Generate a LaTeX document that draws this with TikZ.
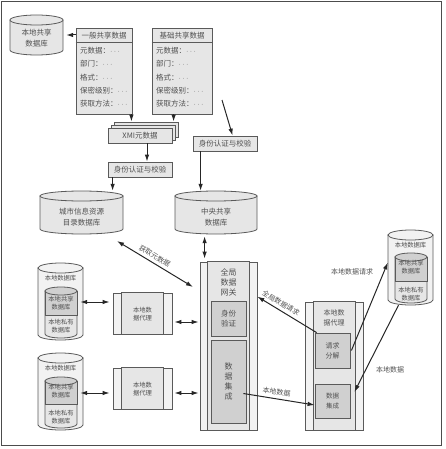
\documentclass[tikz,border=0pt]{standalone}
\usepackage{fontspec}
\newfontfamily\cjk{Noto Sans CJK SC}
\usetikzlibrary{arrows.meta,calc}
\definecolor{ln}{HTML}{5A5A5A}
\definecolor{bx}{HTML}{E6E6E6}
\definecolor{lt}{HTML}{F2F2F2}
\definecolor{dk}{HTML}{D0D0D0}
\definecolor{tx}{HTML}{505050}
\tikzset{
 every node/.style={font=\cjk\fontsize{7.5}{10.5}\selectfont, text=tx},
 sm/.style={font=\cjk\fontsize{6.3}{8}\selectfont},
 box/.style={draw=ln, fill=bx, line width=0.8pt, inner sep=0pt, rectangle},
 arr/.style={-{Latex[length=7pt,width=4.5pt]}, line width=1pt, black!85},
 darr/.style={{Latex[length=7pt,width=4.5pt]}-{Latex[length=7pt,width=4.5pt]}, line width=1pt, black!85},
 cylst/.style={draw=ln, line width=0.8pt},
 lbl/.style={font=\cjk\fontsize{7}{9}\selectfont, text=tx, inner sep=1pt},
}
\newcommand\dd{$\cdots$}
\newcommand\mybox[7][]{%
 \pgfmathsetmacro\mybw{#5-#3}\pgfmathsetmacro\mybh{#6-#4}%
 \pgfmathsetmacro\mybcx{(#3+#5)/2}\pgfmathsetmacro\mybcy{(#4+#6)/2}%
 \node[box,minimum width=\mybw pt,minimum height=\mybh pt,align=center,#1] (#2) at (\mybcx,\mybcy) {#7};}
\newcommand\mycyl[7][bx]{%
 \pgfmathsetmacro\mcx{(#3+#5)/2}\pgfmathsetmacro\mrx{(#5-#3)/2}%
 \pgfmathsetmacro\mya{#4+#7}\pgfmathsetmacro\myb{#6-#7}%
 \pgfmathsetmacro\mcy{(#4+#6)/2}\pgfmathsetmacro\mw{#5-#3}\pgfmathsetmacro\mh{#6-#4}%
 \filldraw[cylst,fill=#1] (#3,\mya) -- (#3,\myb) arc[start angle=180,end angle=0,x radius=\mrx,y radius=#7] -- (#5,\mya) -- cycle;
 \filldraw[cylst,fill=#1] (\mcx,\mya) ellipse[x radius=\mrx,y radius=#7];
 \node[inner sep=0pt,minimum width=\mw pt,minimum height=\mh pt] (#2) at (\mcx,\mcy) {};}
\newcommand\incyl[6]{%
 \pgfmathsetmacro\mcx{(#2+#4)/2}\pgfmathsetmacro\mrx{(#4-#2)/2}%
 \pgfmathsetmacro\mya{#3+4}\pgfmathsetmacro\myb{#5-4}%
 \pgfmathsetmacro\mcy{(#3+#5)/2}\pgfmathsetmacro\mw{#4-#2}\pgfmathsetmacro\mh{#5-#3}%
 \filldraw[cylst,fill=bx] (#2,\mya) -- (#2,\myb) arc[start angle=180,end angle=0,x radius=\mrx,y radius=4] -- (#4,\mya) -- cycle;
 \filldraw[cylst,fill=dk] (#2,\mya) rectangle (#4,#6);
 \filldraw[cylst,fill=dk] (\mcx,\mya) ellipse[x radius=\mrx,y radius=4];
 \node[inner sep=0pt,minimum width=\mw pt,minimum height=\mh pt] (#1) at (\mcx,\mcy) {};}
\newcommand\agentbox[6]{%
 \mybox[fill=lt]{#1}{#2}{#3}{#4}{#5}{}%
 \draw[draw=ln, fill=bx, line width=0.8pt] ([xshift=#6pt]#1.north west) rectangle ([xshift=-#6pt]#1.south east);}
\begin{document}
\begin{tikzpicture}[x=1pt,y=-1pt]
\useasboundingbox (0,0) rectangle (446,449);
\draw[line width=1.4pt, draw=black!70] (1.5,1.5) rectangle (441.5,445.5);

% ---- top area
\mycyl{lsdb}{10}{15}{63}{55}{5}
\node[align=center] (lsdbt) at (36.5,38) {本地共享\\数据库};

\mybox{ge}{76}{28}{132}{114}{}
\draw[draw=ln, line width=0.8pt] ([yshift=-15pt]ge.north west) -- ([yshift=-15pt]ge.north east);
\node (get) at (104,35.5) {一般共享数据};
\node[align=left, anchor=north west, inner sep=0pt, font=\cjk\fontsize{7.5}{13.3}\selectfont] (geb) at (80,47) {元数据：\dd\\部门：\dd\\格式：\dd\\保密级别：\dd\\获取方法：\dd};

\mybox{jc}{152}{28}{212}{114}{}
\draw[draw=ln, line width=0.8pt] ([yshift=-15pt]jc.north west) -- ([yshift=-15pt]jc.north east);
\node (jct) at (182,35.5) {基础共享数据};
\node[align=left, anchor=north west, inner sep=0pt, font=\cjk\fontsize{7.5}{13.3}\selectfont] (jcb) at (156,47) {元数据：\dd\\部门：\dd\\格式：\dd\\保密级别：\dd\\获取方法：\dd};

\mybox{xmib}{114}{122}{178}{137}{}
\mybox{xmim}{111}{125}{175}{140}{}
\mybox{xmi}{108}{128}{172}{143}{XMI元数据}

\mybox{idL}{108}{162}{172}{177}{身份认证与校验}
\mybox{idR}{193}{136}{257}{151}{身份认证与校验}

\mycyl{city}{40}{191}{123}{234}{5}
\node[align=center] (cityt) at (81.5,217) {城市信息资源\\目录数据库};
\mycyl{cent}{175}{191}{257}{234}{5}
\node[align=center] (centt) at (216,217) {中央共享\\数据库};

% ---- gateway
\agentbox{gw}{200}{262}{257}{430}{8}
\node[align=center, font=\cjk\fontsize{8}{10}\selectfont] (gwt) at (228.5,282) {全局\\数据\\网关};
\mybox[fill=dk]{auth}{211}{301}{246}{336}{身份\\验证}
\mybox[fill=dk,font=\cjk\fontsize{8}{9.8}\selectfont]{intg}{211}{340}{246}{423}{数\\据\\集\\成}

% ---- left side
\mycyl[lt]{L1}{38}{263}{83}{340}{5}
\node[sm] (L1t) at (60.5,278) {本地数据库};
\incyl{L1in}{45}{287}{77}{338}{315}
\node[sm,align=center] (L1a) at (61,303) {本地共享\\数据库};
\node[sm,align=center] (L1b) at (61,326.5) {本地私有\\数据库};

\mycyl[lt]{L2}{38}{353}{83}{430}{5}
\node[sm] (L2t) at (60.5,368) {本地数据库};
\incyl{L2in}{45}{377}{77}{428}{404}
\node[sm,align=center] (L2a) at (61,391) {本地共享\\数据库};
\node[sm,align=center] (L2b) at (61,417) {本地私有\\数据库};

\agentbox{A1}{113}{293}{172}{334}{9}
\node[sm,align=center] (A1t) at (142.5,314) {本地数\\据代理};
\agentbox{A2}{113}{368}{172}{409}{9}
\node[sm,align=center] (A2t) at (142.5,389) {本地数\\据代理};

% ---- right side
\agentbox{RA}{305}{302}{363}{430}{8.5}
\node[sm,align=center,font=\cjk\fontsize{7}{10}\selectfont] (RAt) at (334,318) {本地数\\据代理};
\mybox[fill=dk,font=\cjk\fontsize{7}{10}\selectfont]{req}{315}{333}{350}{368}{请求\\分解}
\mybox[fill=dk,font=\cjk\fontsize{6.5}{10}\selectfont]{int2}{315}{384}{350}{418}{数据\\集成}

\mycyl[lt]{R}{388}{230}{433}{305}{5}
\node[sm] (Rt) at (410.5,245) {本地数据库};
\incyl{Rin}{395}{253}{427}{303}{281}
\node[sm,align=center] (Ra) at (411,267) {本地共享\\数据库};
\node[sm,align=center] (Rb) at (411,294) {本地私有\\数据库};

% ---- helper coordinates
\coordinate (jcR) at (222,100);
\coordinate (m1) at (117,241);
\coordinate (m2) at (193,287);
\coordinate (ya) at (0,302);
\coordinate (yb) at (0,322);
\coordinate (yc) at (0,393);

% ---- connectors
\draw[arr] (lsdb.east -| ge.west) -- ([xshift=3pt]lsdb.east);
\draw[arr] ([xshift=-1pt]ge.south east) -- ([xshift=-1pt]ge.south east |- xmib.north);
\draw[arr] ([xshift=22pt]jc.south west) -- ([xshift=22pt]jc.south west |- xmib.north);
\draw[arr] ([xshift=7pt]xmi.south) -- ([xshift=7pt]idL.north);
\draw[arr] ([xshift=5pt]idL.south west) -- ([xshift=5pt]idL.south west |- city.north);
\draw[arr] (jcR) -- ([xshift=40pt]idR.north west);
\draw[arr] ([xshift=8pt]idR.south west) -- ([xshift=8pt]idR.south west |- cent.north);
\draw[darr] ([xshift=5pt,yshift=-2pt]gw.north west |- cent.south) -- ([xshift=5pt,yshift=3pt]gw.north west);
\draw[darr] (m1) -- node[lbl, sloped, above=2pt, pos=0.45] (lm) {获取元数据} (m2);

\draw[darr] ([xshift=3pt]L1in.east |- ya) -- ([xshift=-3pt]A1.west |- ya);
\draw[darr] ([xshift=2pt]A1.east |- yb) -- ([xshift=-1pt]gw.west |- yb);
\draw[darr] ([xshift=3pt]L2in.east |- yc) -- ([xshift=-3pt]A2.west |- yc);
\draw[darr] ([xshift=2pt]A2.east |- yc) -- ([xshift=-1pt]gw.west |- yc);

\draw[arr] ([xshift=2pt]req.north west) -- node[lbl, sloped, above=2pt, pos=0.66] (lg) {全局数据请求} ([yshift=-35pt]gw.north east);
\draw[arr] ([xshift=1pt]req.east) -- ([yshift=5pt]R.west);
\node[lbl] (lr) at (352,272) {本地数据请求};
\draw[arr] ([xshift=-12pt]R.south) -- ([xshift=4pt,yshift=9pt]int2.east);
\node[lbl] (ld) at (390,370) {本地数据};
\draw[arr] ([xshift=-3pt,yshift=-12pt]intg.east) -- node[lbl, sloped, above=2pt, pos=0.45] (lb) {本地数据} ([yshift=-4pt]int2.west);
\end{tikzpicture}
\end{document}
